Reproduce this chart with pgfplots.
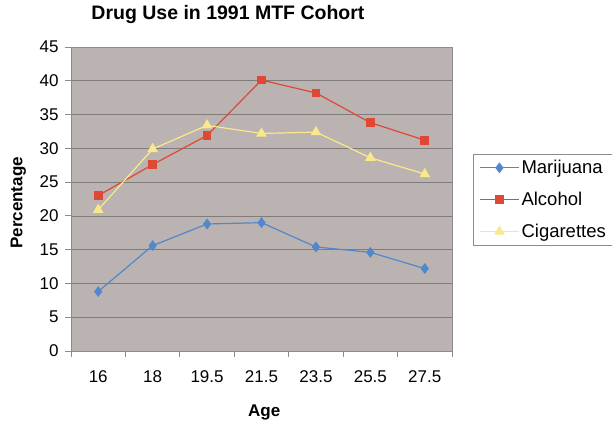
\documentclass[border=0pt]{standalone}
\usepackage{pgfplots}
\pgfplotsset{compat=1.18}
\usepackage{fontspec}
\setmainfont{Liberation Sans}
\definecolor{bgc}{RGB}{187,179,177}
\definecolor{gridc}{RGB}{128,124,124}
\definecolor{axc}{RGB}{140,140,140}
\definecolor{mj}{RGB}{80,135,205}
\definecolor{al}{RGB}{222,72,52}
\definecolor{cg}{RGB}{250,232,140}
\begin{document}
\begin{tikzpicture}
\path[use as bounding box] (-71bp,-70bp) rectangle (541bp,351bp);
\begin{axis}[
  at={(0,0)}, anchor=south west,
  width=381bp, height=304bp, scale only axis,
  xmin=-0.5, xmax=6.5, ymin=0, ymax=45,
  ytick={0,5,...,45},
  xtick={0,...,6},
  xticklabels={16,18,19.5,21.5,23.5,25.5,27.5},
  major x tick style={draw=none},
  minor xtick={-0.5,0.5,...,6.5},
  minor x tick style={draw=axc, line width=0.8pt},
  major y tick style={draw=axc, line width=0.8pt},
  minor tick length=6bp, major tick length=6bp,
  tick align=outside,
  xtick pos=bottom, ytick pos=left,
  ymajorgrids,
  major grid style={draw=gridc, line width=0.6pt},
  axis background/.style={fill=bgc},
  axis line style={draw=axc, line width=0.8pt},
  tick label style={font=\fontsize{17bp}{20bp}\selectfont, text=black},
  /pgf/number format/assume math mode=true,
  xticklabel style={yshift=-10bp},
  yticklabel style={xshift=-3bp},
  title={Drug Use in 1991 MTF Cohort},
  title style={font=\bfseries\fontsize{19.5bp}{22bp}\selectfont, at={(0.412,1.086)}, anchor=center},
  xlabel={Age},
  xlabel style={font=\bfseries\fontsize{17bp}{20bp}\selectfont, at={(0.507,-0.2007)}, anchor=center},
  ylabel={Percentage},
  ylabel style={font=\bfseries\fontsize{17bp}{20bp}\selectfont, at={(-0.138,0.487)}, anchor=center},
  legend style={at={(1.055,0.648)}, anchor=north west, draw=axc, line width=0.8pt, fill=white,
    font=\fontsize{18.5bp}{21bp}\selectfont, row sep=13bp, inner xsep=6bp, inner ysep=4bp,
    /tikz/every even column/.append style={column sep=8bp}},
  legend cell align=left,
  legend image code/.code={\draw[#1, mark repeat=2, mark phase=2] plot coordinates {(0bp,0bp) (19.5bp,0bp) (39bp,0bp)};},
]
\addplot[color=mj, line width=1.2pt, mark=diamond*, mark size=4.5bp, mark options={fill=mj, draw=mj}]
  coordinates {(0,8.8) (1,15.6) (2,18.8) (3,19.0) (4,15.4) (5,14.6) (6,12.2)};
\addlegendentry{Marijuana}
\addplot[color=al, line width=1.2pt, mark=square*, mark size=3.8bp, mark options={fill=al, draw=al}]
  coordinates {(0,23.0) (1,27.6) (2,31.9) (3,40.1) (4,38.2) (5,33.8) (6,31.2)};
\addlegendentry{Alcohol}
\addplot[color=cg, line width=1.2pt, mark=triangle*, mark size=5bp, mark options={fill=cg, draw=cg}]
  coordinates {(0,20.9) (1,29.9) (2,33.4) (3,32.2) (4,32.4) (5,28.6) (6,26.2)};
\addlegendentry{Cigarettes}
\end{axis}
\end{tikzpicture}
\end{document}
